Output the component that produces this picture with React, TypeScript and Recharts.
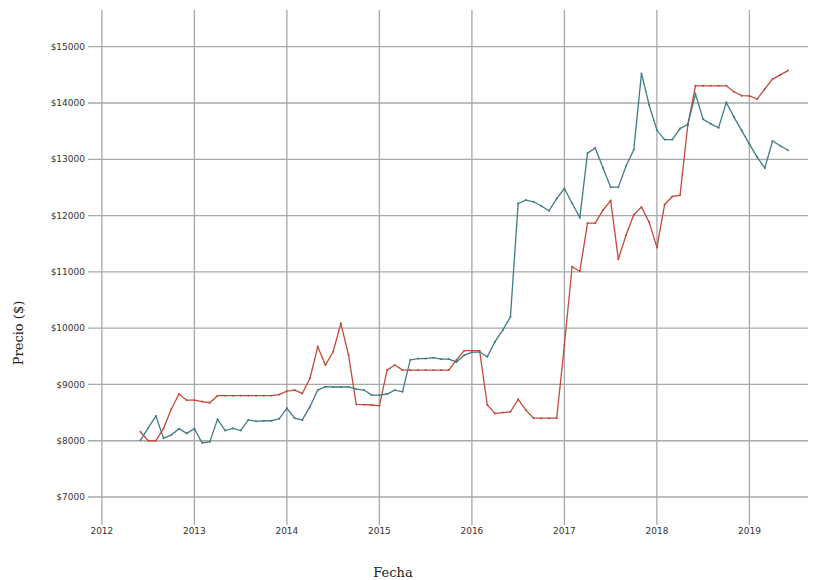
import { LineChart, Line, XAxis, YAxis, CartesianGrid } from 'recharts';

// months counted from Jan 2012 (0 = 2012-01)
const months = [
  5, 6, 7, 8, 9, 10, 11, 12, 13, 14, 15, 16, 17, 18, 19, 20, 21, 22, 23, 24,
  25, 26, 27, 28, 29, 30, 31, 32, 33, 34, 35, 36, 37, 38, 39, 40, 41, 42, 43, 44,
  45, 46, 47, 48, 49, 50, 51, 52, 53, 54, 55, 56, 57, 58, 59, 60, 61, 62, 63, 64,
  65, 66, 67, 68, 69, 70, 71, 72, 73, 74, 75, 76, 77, 78, 79, 80, 81, 82, 83, 84,
  85, 86, 87, 88, 89,
];

const rojo = [
  8160, 8000, 8000, 8220, 8560, 8830, 8720, 8720, 8695, 8675, 8800, 8800, 8800, 8800, 8800, 8800, 8800, 8800, 8820, 8880,
  8900, 8840, 9110, 9670, 9345, 9580, 10085, 9520, 8645, 8640, 8635, 8620, 9255, 9345, 9255, 9255, 9255, 9255, 9255, 9255,
  9255, 9435, 9600, 9600, 9600, 8635, 8485, 8500, 8515, 8735, 8545, 8400, 8400, 8400, 8400, 9700, 11090, 11010, 11865, 11865,
  12095, 12265, 11225, 11655, 12015, 12150, 11880, 11435, 12195, 12340, 12360, 13600, 14305, 14305, 14305, 14305, 14305, 14200, 14130, 14125,
  14070, 14250, 14425, 14500, 14575,
];

const verde = [
  8010, 8225, 8440, 8045, 8100, 8215, 8130, 8215, 7965, 7980, 8380, 8180, 8220, 8180, 8370, 8345, 8355, 8355, 8390, 8575,
  8400, 8370, 8605, 8900, 8960, 8955, 8955, 8955, 8915, 8900, 8810, 8810, 8830, 8900, 8870, 9435, 9460, 9460, 9475, 9450,
  9450, 9400, 9520, 9570, 9580, 9490, 9760, 9965, 10200, 12215, 12275, 12245, 12170, 12085, 12300, 12480, 12220, 11965, 13110, 13200,
  12850, 12505, 12505, 12880, 13170, 14525, 13960, 13515, 13350, 13350, 13545, 13620, 14160, 13710, 13630, 13560, 14010, 13750, 13510, 13270,
  13040, 12845, 13325, 13240, 13160,
];

const xTicks = [0, 12, 24, 36, 48, 60, 72, 84];
const yTicks = [7000, 8000, 9000, 10000, 11000, 12000, 13000, 14000, 15000];
const xDomain = [-1.8, 91.6];
const yDomain = [6503, 15652];

const data = months.map((m, i) => ({ m, rojo: rojo[i], verde: verde[i] }));

const tickStyle = { fontSize: 9, fill: '#333', fontFamily: 'DejaVu Sans' };

// grid only at the ticks, no frame around the plot
const gridY = ({ offset }: any) =>
  yTicks.map((t) => offset.top + ((yDomain[1] - t) / (yDomain[1] - yDomain[0])) * offset.height);
const gridX = ({ offset }: any) =>
  xTicks.map((t) => offset.left + ((t - xDomain[0]) / (xDomain[1] - xDomain[0])) * offset.width);

export default function App() {
  return (
    <div style={{ position: 'absolute', left: 0, top: 0, width: 819, height: 580, background: '#fff' }}>
      <LineChart width={819} height={580} data={data} margin={{ top: 10, right: 11, left: 0, bottom: 0 }}>
        <CartesianGrid
          stroke="#a8a8a8"
          strokeWidth={1.3}
          horizontalCoordinatesGenerator={gridY}
          verticalCoordinatesGenerator={gridX}
        />
        <XAxis
          dataKey="m"
          type="number"
          domain={xDomain}
          ticks={xTicks}
          allowDataOverflow
          tickFormatter={(v: number) => String(2012 + v / 12)}
          axisLine={false}
          tickLine={false}
          tickSize={0}
          tickMargin={3}
          height={55}
          tick={tickStyle}
        />
        <YAxis
          type="number"
          domain={yDomain}
          ticks={yTicks}
          allowDataOverflow
          tickFormatter={(v: number) => `$${v}`}
          axisLine={false}
          tickLine={false}
          tickSize={0}
          tickMargin={3}
          width={88}
          tick={tickStyle}
        />
        <Line
          type="linear"
          dataKey="rojo"
          stroke="#c24a3a"
          strokeWidth={1.3}
          dot={{ r: 1, fill: '#c24a3a', strokeWidth: 0 }}
          isAnimationActive={false}
        />
        <Line
          type="linear"
          dataKey="verde"
          stroke="#3f7d83"
          strokeWidth={1.3}
          dot={{ r: 1, fill: '#3f7d83', strokeWidth: 0 }}
          isAnimationActive={false}
        />
        <text x={393} y={577} textAnchor="middle" fontFamily="DejaVu Serif" fontSize={13} fill="#222">
          Fecha
        </text>
        <text
          x={23}
          y={333}
          textAnchor="middle"
          fontFamily="DejaVu Serif"
          fontSize={13}
          fill="#222"
          transform="rotate(-90 23 333)"
        >
          Precio ($)
        </text>
      </LineChart>
    </div>
  );
}
